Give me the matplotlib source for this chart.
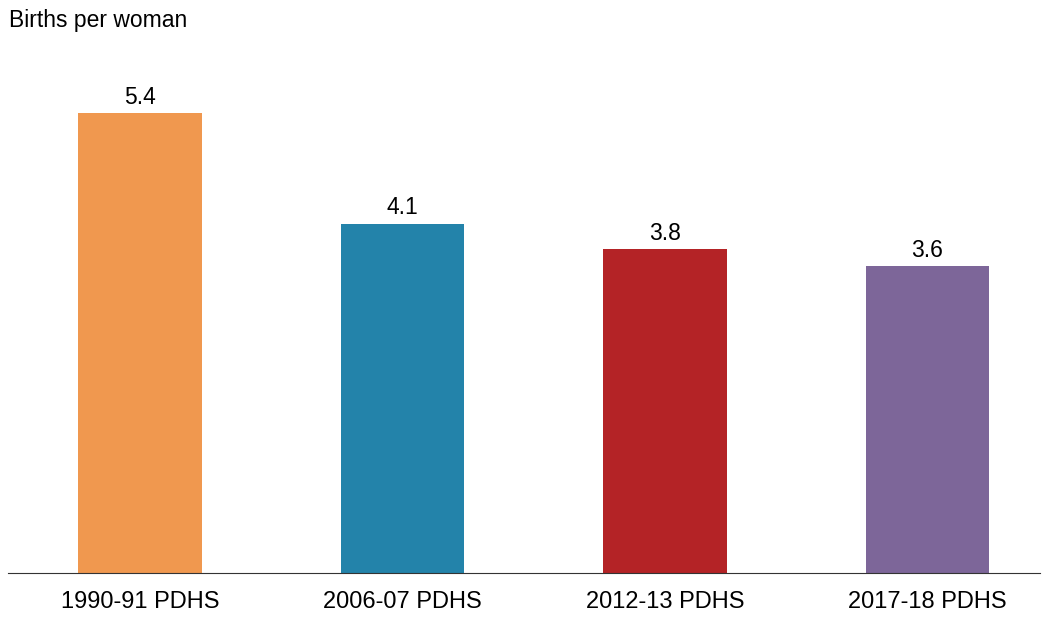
import matplotlib
matplotlib.use("Agg")
import matplotlib.pyplot as plt

# Datos
encuestas = ["1990-91 PDHS", "2006-07 PDHS", "2012-13 PDHS", "2017-18 PDHS"]
tasas = [5.4, 4.1, 3.8, 3.6]
colores = ["#F0984F", "#2383AA", "#B42326", "#7D6699"]

plt.rcParams["font.family"] = ["Liberation Sans", "DejaVu Sans"]

fig = plt.figure(figsize=(10.49, 6.19), dpi=100)
ax = fig.add_axes([0.0076, 0.0743, 0.9834, 0.826])

x = range(len(encuestas))
barras = ax.bar(x, tasas, width=0.472, color=colores)
for b, v in zip(barras, tasas):
    ax.text(b.get_x() + b.get_width() / 2, v + 0.05, f"{v}",
            ha="center", va="bottom", fontsize=16.5)

ax.set_xlim(-0.503, 3.427)
ax.set_ylim(0, 6)
ax.set_xticks(list(x))
ax.set_xticklabels(encuestas, fontsize=17)
ax.tick_params(axis="x", length=0, pad=13)
ax.set_yticks([])
for lado in ["top", "right", "left"]:
    ax.spines[lado].set_visible(False)
ax.spines["bottom"].set_color("#333333")

fig.text(0.009, 0.967, "Births per woman", ha="left", va="center", fontsize=16.5)

fig.savefig("out.png", dpi=100)
